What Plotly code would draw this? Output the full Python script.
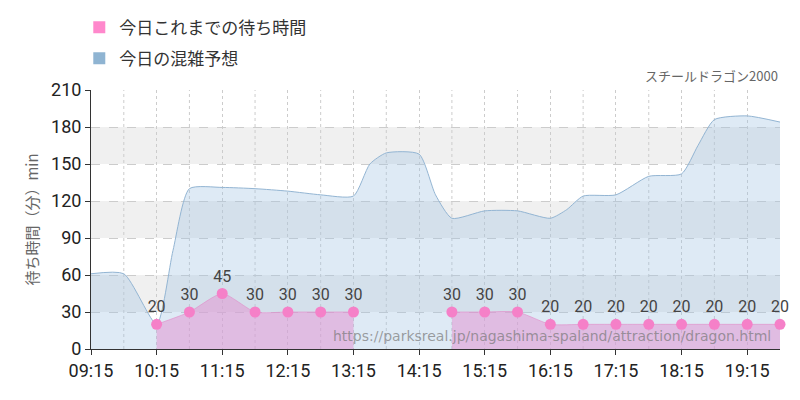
import plotly.graph_objects as go

forecast_t = ["09:15", "09:45", "10:15", "10:30", "10:45", "11:15", "11:45", "12:15", "12:45", "13:15",
              "13:30", "13:45", "14:15", "14:30", "14:45", "15:15", "15:45", "16:15", "16:30", "16:45",
              "17:15", "17:45", "18:15", "18:30", "18:45", "19:15", "19:45"]
forecast_v = [61, 61, 20, 80, 130, 131, 130, 128, 125, 124,
              150, 159, 158, 125, 106, 112, 112, 106, 113, 124,
              125, 140, 142, 165, 186, 189, 184]

wait_t1 = ["10:15", "10:45", "11:15", "11:45", "12:15", "12:45", "13:15"]
wait_v1 = [20, 30, 45, 30, 30, 30, 30]
wait_t2 = ["14:45", "15:15", "15:45", "16:15", "16:45", "17:15", "17:45", "18:15", "18:45", "19:15", "19:45"]
wait_v2 = [30, 30, 30, 20, 20, 20, 20, 20, 20, 20, 20]

tick_t = ["09:15", "10:15", "11:15", "12:15", "13:15", "14:15", "15:15", "16:15", "17:15", "18:15", "19:15"]


def ts(t):
    return "2024-01-01 " + t


PINK = "#f580c8"
BLUE = "#93b5d3"
NUM_FONT = dict(size=18, family="Roboto", color="#222")

fig = go.Figure()
fig.add_trace(go.Scatter(
    x=[ts(t) for t in forecast_t], y=forecast_v, mode="lines", line=dict(color=BLUE, width=1, shape="spline", smoothing=0.6),
    fill="tozeroy", fillcolor="rgba(160,195,225,0.35)", showlegend=False))
for tt, vv in [(wait_t1, wait_v1), (wait_t2, wait_v2)]:
    fig.add_trace(go.Scatter(
        x=[ts(t) for t in tt], y=vv, mode="lines+markers+text", text=[str(v) for v in vv],
        textposition="top center", textfont=dict(size=16, color="#444", family="Roboto"),
        line=dict(color="rgba(225,140,200,0.6)", width=1, shape="spline", smoothing=0.6),
        marker=dict(color=PINK, size=11), fill="tozeroy", fillcolor="rgba(225,150,210,0.55)",
        showlegend=False, cliponaxis=False))
# legend entries as squares
for name, col in [("今日これまでの待ち時間", "#ff88cc"), ("今日の混雑予想", "#8fb4d2")]:
    fig.add_trace(go.Scatter(x=[None], y=[None], mode="markers", name=name, legendgroup=name,
                             marker=dict(symbol="square", size=20, color=col)))

shapes = []
for lo in (30, 90, 150):
    shapes.append(dict(type="rect", xref="paper", yref="y", x0=0, x1=1, y0=lo, y1=lo + 30,
                       fillcolor="rgba(0,0,0,0.06)", line_width=0, layer="below"))

fig.update_layout(
    width=800, height=400, margin=dict(l=83, r=28, t=82, b=59, autoexpand=False),
    plot_bgcolor="white", paper_bgcolor="white", shapes=shapes,
    font=dict(family="Noto Sans CJK JP", color="#444"),
    legend=dict(x=-0.017, y=1.31, xanchor="left", yanchor="top", font=dict(size=17, color="#333"),
                itemsizing="constant", bgcolor="rgba(0,0,0,0)", tracegroupgap=6, itemwidth=30),
    annotations=[
        dict(text="スチールドラゴン2000", xref="paper", yref="paper", x=1.0, y=1.01, xanchor="right",
             yanchor="bottom", showarrow=False, font=dict(size=13, color="#666")),
        dict(text="https://parksreal.jp/nagashima-spaland/attraction/dragon.html", xref="paper", yref="paper",
             x=0.99, y=0.01, xanchor="right", yanchor="bottom", showarrow=False,
             font=dict(size=14, color="rgba(120,120,120,0.7)", family="DejaVu Sans")),
    ],
)
fig.update_xaxes(type="date", range=[ts("09:15"), ts("19:45")], tickvals=[ts(t) for t in tick_t], ticktext=tick_t,
                 tickfont=NUM_FONT, automargin=False,
                 showgrid=True, gridcolor="#ccc", griddash="dot",
                 showline=True, linecolor="#333", ticks="outside", ticklen=5, tickcolor="#333")
fig.update_yaxes(range=[0, 210], dtick=30, tickfont=NUM_FONT, automargin=False,
                 showgrid=True, gridcolor="#ccc", griddash="dash", zeroline=False,
                 showline=True, linecolor="#333", ticks="outside", ticklen=5, tickcolor="#333",
                 title=dict(text="待ち時間（分）min", font=dict(size=15, color="#666"), standoff=8))
for h in range(9, 19):
    fig.add_vline(x=ts(f"{h:02d}:45"), line=dict(color="#ccc", dash="dot", width=1), layer="below")

fig.write_html("out.html")
